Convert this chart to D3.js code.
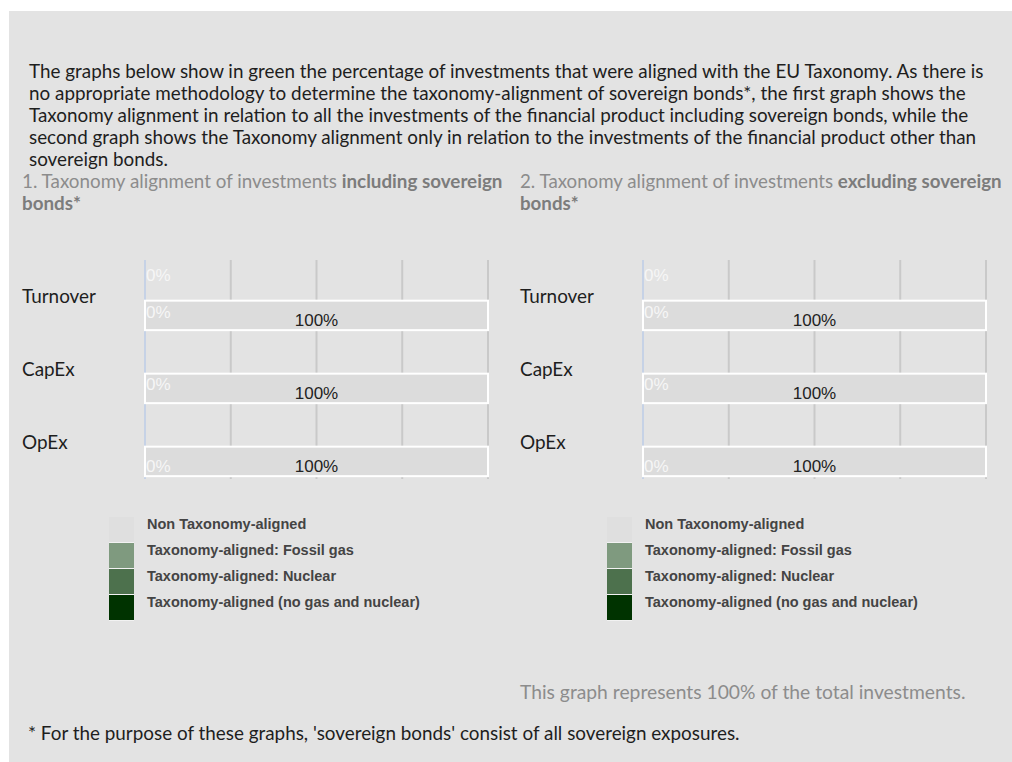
<!DOCTYPE html>
<html>
<head>
<meta charset="utf-8">
<script src="https://cdn.jsdelivr.net/npm/d3@7"></script>
<style>
  html, body { margin: 0; padding: 0; background: #ffffff; }
  svg { display: block; }
</style>
</head>
<body>
<svg id="chart" width="1012" height="762"></svg>
<script>
// ---------- DATA ----------
const categories = ["Turnover", "CapEx", "OpEx"];
// Chart 1: including sovereign bonds (% of investments)
const incl_alignedNoGasNuclear = [0, 0, 0];
const incl_alignedFossilGas   = [0, 0, 0];
const incl_alignedNuclear     = [0, 0, 0];
const incl_nonAligned         = [100, 100, 100];
// Chart 2: excluding sovereign bonds (% of investments)
const excl_alignedNoGasNuclear = [0, 0, 0];
const excl_alignedFossilGas   = [0, 0, 0];
const excl_alignedNuclear     = [0, 0, 0];
const excl_nonAligned         = [100, 100, 100];

const xTicks = [0, 25, 50, 75, 100];
const legendLabels = [
  "Non Taxonomy-aligned",
  "Taxonomy-aligned: Fossil gas",
  "Taxonomy-aligned: Nuclear",
  "Taxonomy-aligned (no gas and nuclear)"
];
const legendColors = ["#dfdfdf", "#7f9a7f", "#4d714d", "#003300"];

const introLines = [
  "The graphs below show in green the percentage of investments that were aligned with the EU Taxonomy. As there is",
  "no appropriate methodology to determine the taxonomy-alignment of sovereign bonds*, the first graph shows the",
  "Taxonomy alignment in relation to all the investments of the financial product including sovereign bonds, while the",
  "second graph shows the Taxonomy alignment only in relation to the investments of the financial product other than",
  "sovereign bonds."
];
const title1 = ["1. Taxonomy alignment of investments ", "including sovereign", "bonds*"];
const title2 = ["2. Taxonomy alignment of investments ", "excluding sovereign", "bonds*"];
const noteText = "This graph represents 100% of the total investments.";
const footText = "* For the purpose of these graphs, 'sovereign bonds' consist of all sovereign exposures.";

// ---------- LAYOUT ----------
const svg = d3.select("#chart");
const SANS = "Lato, 'Open Sans', sans-serif";
const ARIAL = "'Liberation Sans', Arial, sans-serif";

// scale a text (or group of texts) so that a reference node spans the target width
function fitWidth(sel, refNode, target, base) {
  const w = refNode.getComputedTextLength();
  sel.attr("font-size", base * target / w);
}

svg.append("rect").attr("x", 9).attr("y", 11).attr("width", 1003).attr("height", 751).attr("fill", "#e3e3e3");

// intro text
const intro = svg.append("g");
introLines.forEach((l, i) => {
  intro.append("text")
    .attr("x", 29).attr("y", 78 + i * 22)
    .attr("font-family", SANS).attr("font-size", 16)
    .attr("fill", "#1e1e1e").text(l);
});
fitWidth(intro.selectAll("text"), intro.select("text").node(), 955, 16);

function drawChart(ox, title, data, titleW) {
  const g = svg.append("g");
  // title
  const t1 = g.append("text").attr("x", ox).attr("y", 188)
    .attr("font-family", SANS).attr("font-size", 16).attr("fill", "#8c8c8c");
  t1.append("tspan").text(title[0]);
  t1.append("tspan").attr("font-weight", "bold").attr("fill", "#7c7c7c").text(title[1]);
  const t2 = g.append("text").attr("x", ox).attr("y", 210)
    .attr("font-family", SANS).attr("font-size", 16).attr("font-weight", "bold")
    .attr("fill", "#7c7c7c").text(title[2]);
  const w0 = t1.node().getComputedTextLength();
  const fs = 16 * titleW / w0;
  t1.attr("font-size", fs); t2.attr("font-size", fs);

  const x0 = ox + 123, x1 = ox + 466;
  const x = d3.scaleLinear().domain([0, 100]).range([x0, x1]);
  const y = d3.scaleBand().domain(categories).range([260, 479]);
  const bw = y.bandwidth();

  // gridlines
  g.selectAll("line.grid").data(xTicks.slice(1)).enter().append("line")
    .attr("x1", d => x(d)).attr("x2", d => x(d))
    .attr("y1", 260).attr("y2", 479)
    .attr("stroke", "#c9c9c9").attr("stroke-width", 2);
  // axis line
  g.append("line").attr("x1", x0).attr("x2", x0).attr("y1", 260).attr("y2", 479)
    .attr("stroke", "#c6d2e6").attr("stroke-width", 2);

  // category labels
  const cats = g.selectAll("text.cat").data(categories).enter().append("text")
    .attr("x", ox).attr("y", d => y(d) + bw / 2)
    .attr("dy", "0.35em")
    .attr("font-family", SANS).attr("font-size", 16).attr("fill", "#1e1e1e")
    .text(d => d);
  fitWidth(cats, cats.node(), 74, 16);

  const barTop = bw * 0.557, barH = bw * 0.404;
  const rows = categories.map((c, i) => {
    const segs = [
      { key: "noGasNuclear", v: data.noGasNuclear[i], color: legendColors[3] },
      { key: "fossil", v: data.fossil[i], color: legendColors[1] },
      { key: "nuclear", v: data.nuclear[i], color: legendColors[2] },
      { key: "non", v: data.non[i], color: "#dcdcdc" }
    ];
    let acc = 0;
    segs.forEach(s => { s.start = acc; acc += s.v; s.end = acc; s.cat = c; });
    return segs;
  });

  rows.forEach((segs, i) => {
    const yy = y(categories[i]) + barTop;
    segs.forEach(s => {
      if (s.v > 0) {
        g.append("rect")
          .attr("x", x(s.start)).attr("y", yy)
          .attr("width", x(s.end) - x(s.start)).attr("height", barH)
          .attr("fill", s.color).attr("stroke", "#ffffff").attr("stroke-width", 2);
      }
    });
    // 100% label
    const non = segs[3];
    g.append("text")
      .attr("x", (x(non.start) + x(non.end)) / 2).attr("y", yy + barH / 2 + 5)
      .attr("dy", "0.35em").attr("text-anchor", "middle")
      .attr("font-family", ARIAL).attr("font-size", 17).attr("fill", "#222")
      .text(non.v + "%");
  });

  // zero-value aligned labels (white), positions as laid out in the original
  const zeroLabelOffsets = [[15, 52], [51], [60]];
  categories.forEach((c, i) => {
    zeroLabelOffsets[i].forEach(off => {
      g.append("text")
        .attr("x", x(0) + 1).attr("y", y(c) + off)
        .attr("dy", "0.35em")
        .attr("font-family", ARIAL).attr("font-size", 17).attr("fill", "#f6f6f6")
        .text(data.noGasNuclear[i] + "%");
    });
  });

  // legend
  const lx = ox + 87;
  const lg = g.append("g");
  legendLabels.forEach((l, i) => {
    lg.append("rect").attr("x", lx).attr("y", 517 + i * 26)
      .attr("width", 25).attr("height", 26).attr("fill", "#f2f2f2");
    lg.append("rect").attr("x", lx).attr("y", 517 + i * 26)
      .attr("width", 25).attr("height", 25).attr("fill", legendColors[i]);
    lg.append("text").attr("x", lx + 38).attr("y", 524 + i * 26)
      .attr("dy", "0.35em")
      .attr("font-family", ARIAL).attr("font-size", 14.5).attr("font-weight", "bold")
      .attr("fill", "#444").text(l);
  });
}

drawChart(22, title1, { noGasNuclear: incl_alignedNoGasNuclear, fossil: incl_alignedFossilGas, nuclear: incl_alignedNuclear, non: incl_nonAligned }, 481);
drawChart(520, title2, { noGasNuclear: excl_alignedNoGasNuclear, fossil: excl_alignedFossilGas, nuclear: excl_alignedNuclear, non: excl_nonAligned }, 482);

const note = svg.append("text").attr("x", 520).attr("y", 699)
  .attr("font-family", SANS).attr("font-size", 16).attr("fill", "#8c8c8c").text(noteText);
fitWidth(note, note.node(), 446, 16);
const foot = svg.append("text").attr("x", 28).attr("y", 740)
  .attr("font-family", SANS).attr("font-size", 16).attr("fill", "#1e1e1e").text(footText);
fitWidth(foot, foot.node(), 712, 16);
</script>
</body>
</html>
